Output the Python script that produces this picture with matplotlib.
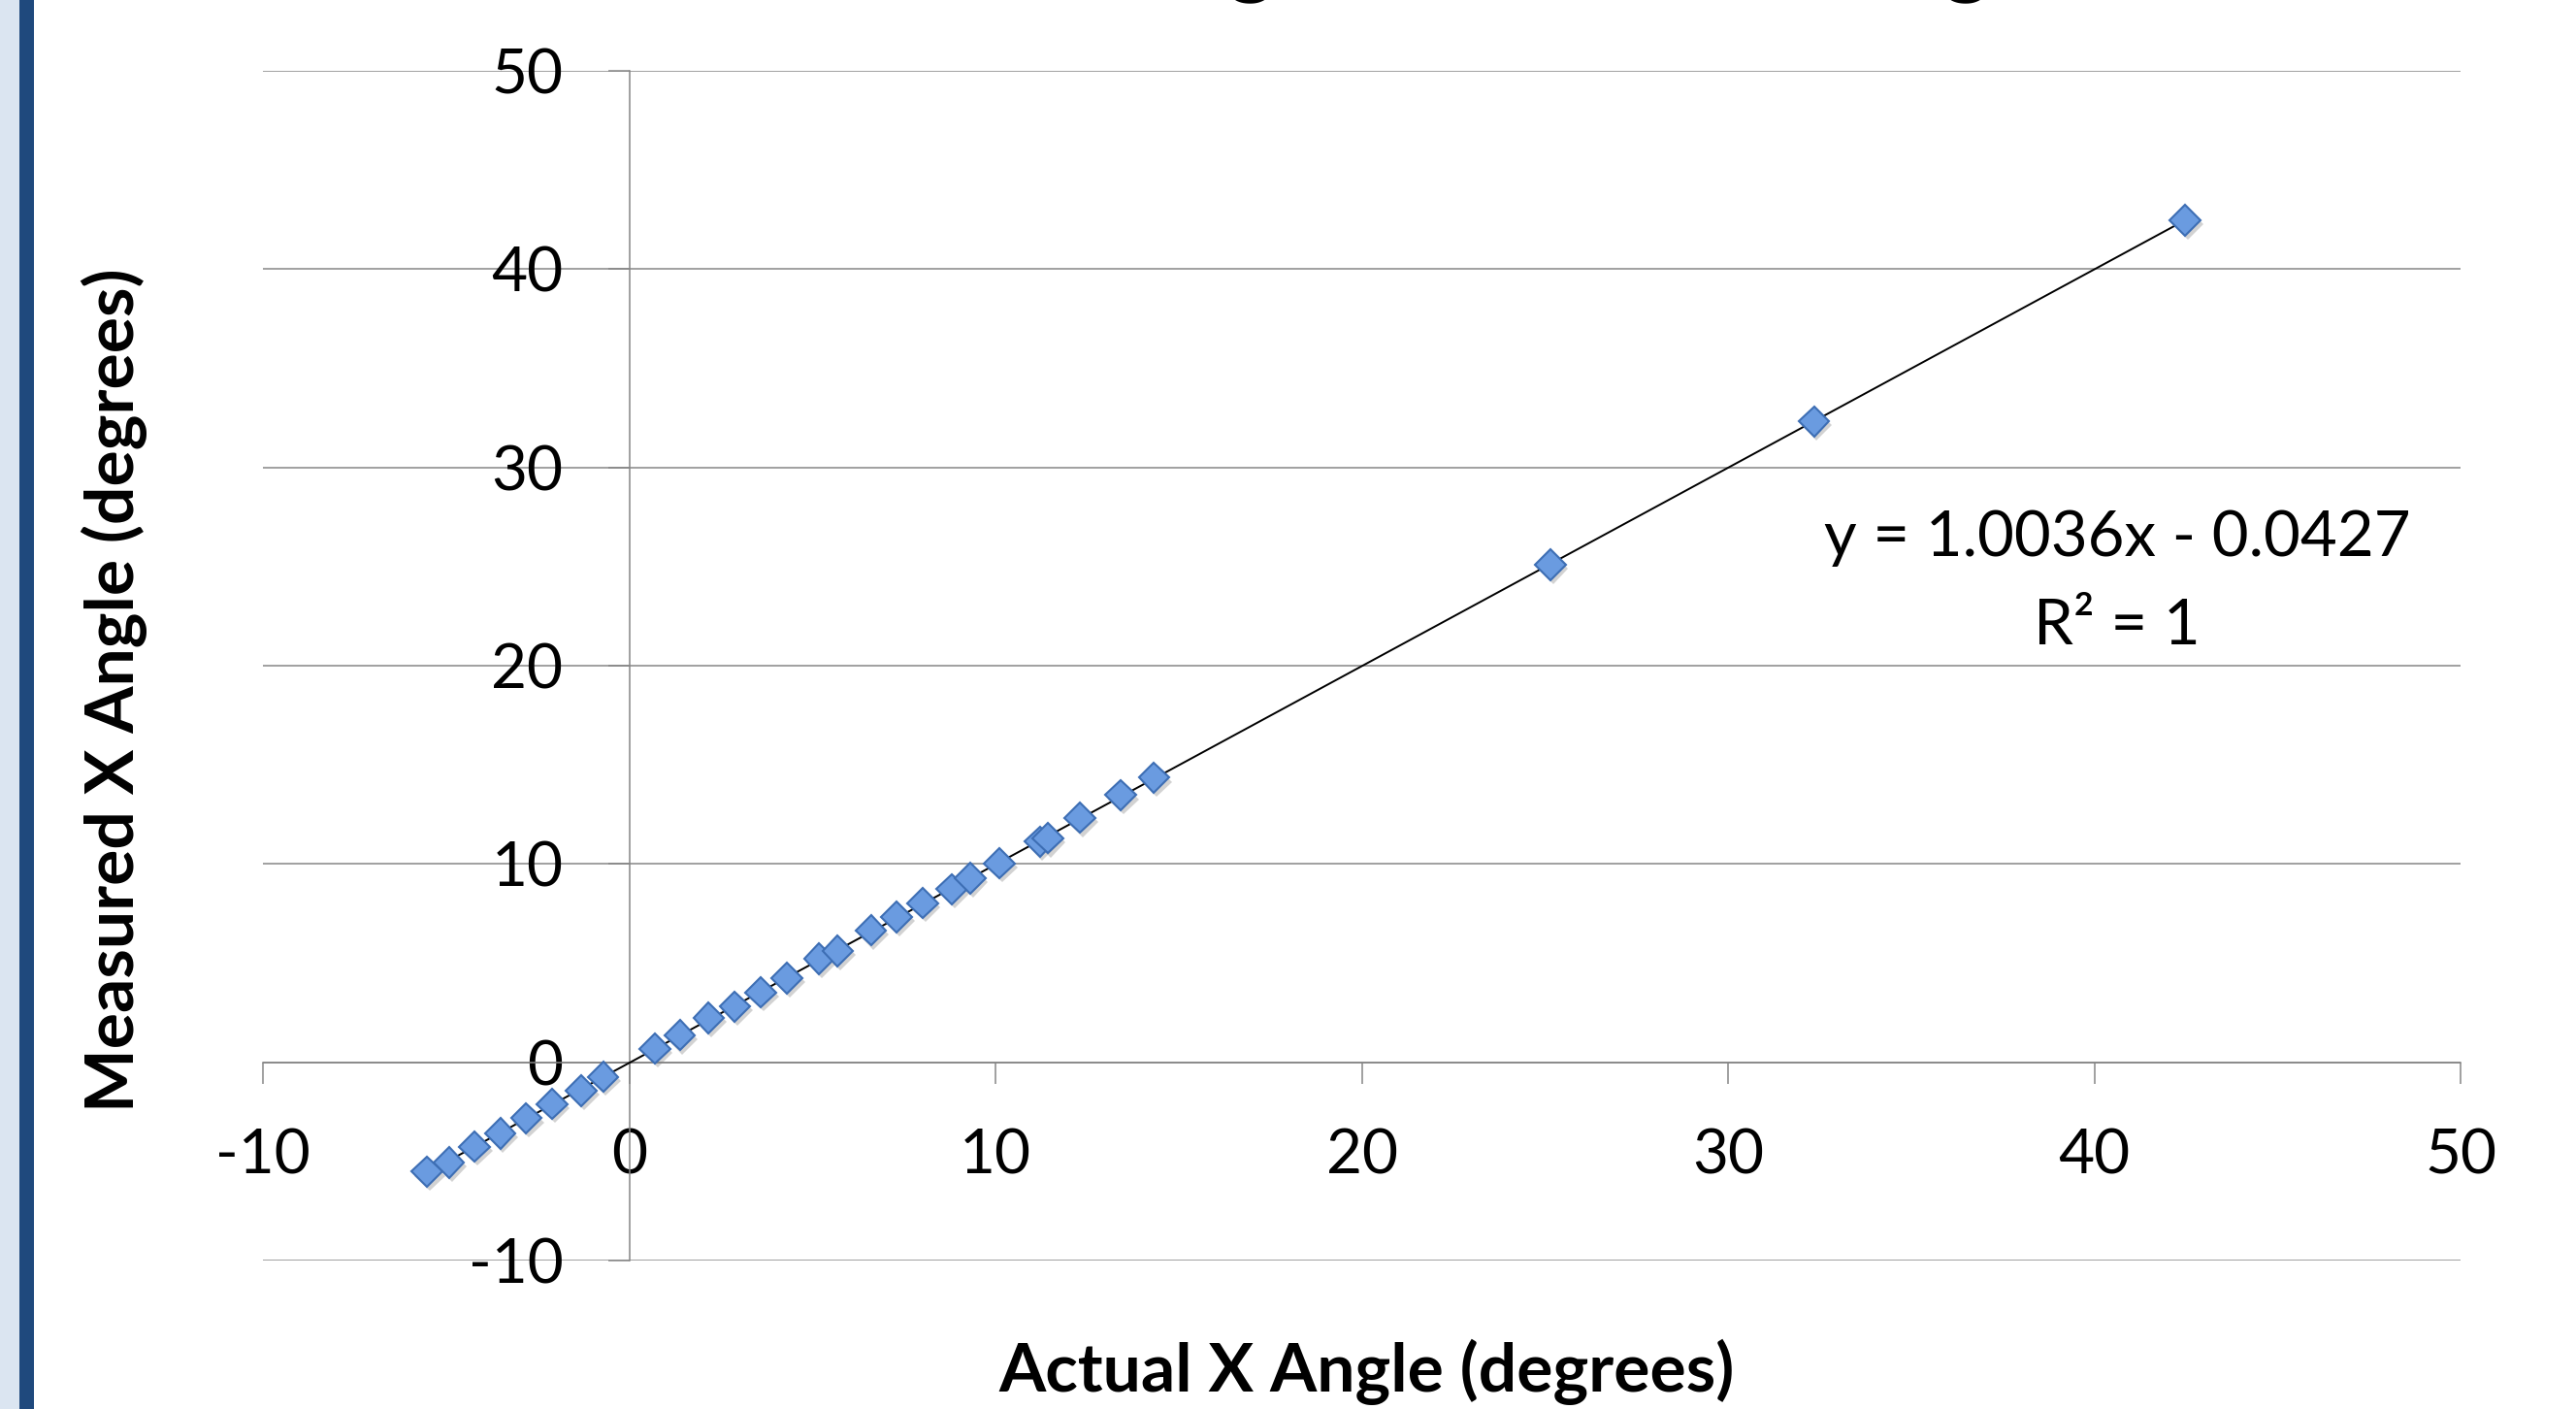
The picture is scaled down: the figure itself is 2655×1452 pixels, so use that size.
import numpy as np
import matplotlib
matplotlib.use("Agg")
import matplotlib.pyplot as plt
import matplotlib.patheffects as pe
from matplotlib.patches import Rectangle

plt.rcParams['font.family'] = ['Lato', 'DejaVu Sans']

# Actual vs measured X angle (degrees)
actual_x = [-5.52, -4.92, -4.22, -3.52, -2.81, -2.11, -1.31, -0.71, 0.70, 1.38,
            2.17, 2.88, 3.59, 4.31, 5.19, 5.69, 6.60, 7.30, 8.01, 8.81,
            9.31, 10.11, 11.21, 11.43, 12.31, 13.42, 14.33, 25.15, 32.35, 42.48]
measured_x = [-5.52, -5.06, -4.25, -3.59, -2.83, -2.10, -1.43, -0.73, 0.69, 1.37,
              2.24, 2.81, 3.53, 4.25, 5.21, 5.62, 6.65, 7.33, 8.03, 8.73,
              9.29, 10.04, 11.13, 11.30, 12.33, 13.47, 14.35, 25.09, 32.32, 42.47]
x_ticks = [-10, 0, 10, 20, 30, 40, 50]
y_ticks = [-10, 0, 10, 20, 30, 40, 50]
equation = "y = 1.0036x - 0.0427"
r2_text = "R² = 1"

grid_col = '#868686'

fig = plt.figure(figsize=(26.55, 14.52), dpi=100)
fig.patch.set_facecolor('white')

# blue stripe on the left edge
fig.patches.append(Rectangle((0, 0), 20 / 2655, 1, transform=fig.transFigure,
                             facecolor='#dbe5f1', edgecolor='none'))
fig.patches.append(Rectangle((20 / 2655, 0), 15 / 2655, 1, transform=fig.transFigure,
                             facecolor='#1f497d', edgecolor='none'))

ax = fig.add_axes([271 / 2655, 153 / 1452, 2265 / 2655, 1226 / 1452])
ax.set_xlim(-10, 50)
ax.set_ylim(-10, 50)

for s in ['top', 'right']:
    ax.spines[s].set_visible(False)
ax.spines['bottom'].set_position(('data', 0))
ax.spines['left'].set_position(('data', 0))
for s in ['bottom', 'left']:
    ax.spines[s].set_color(grid_col)
    ax.spines[s].set_linewidth(1.1)

ax.set_xticks(x_ticks)
ax.set_yticks(y_ticks)
ax.set_xticklabels([str(t) for t in x_ticks])
ax.set_yticklabels([str(t) for t in y_ticks])
ax.tick_params(axis='both', direction='out', length=16, width=1.1, color=grid_col,
               labelsize=46, pad=33, labelcolor='black')
ax.yaxis.grid(True, color=grid_col, linewidth=1.1)
ax.set_axisbelow(True)

# trendline
coef = np.polyfit(actual_x, measured_x, 1)
xl = np.array([min(actual_x), max(actual_x)])
ax.plot(xl, np.polyval(coef, xl), color='black', linewidth=1.4, zorder=3)

ax.plot(actual_x, measured_x, linestyle='none', marker='D', markersize=16,
        markerfacecolor='#6a9be0', markeredgecolor='#3d6eb4', markeredgewidth=1.5,
        zorder=4, clip_on=False,
        path_effects=[pe.SimplePatchShadow(offset=(2, -3), shadow_rgbFace='#808080', alpha=0.35),
                      pe.Normal()])

fig.text(2182 / 2655, 1 - 555 / 1452, equation, fontsize=47, ha='center', va='center')
fig.text(2182 / 2655, 1 - 645 / 1452, r2_text, fontsize=47, ha='center', va='center')

# title sits mostly above the top edge, only the descenders show
fig.text(0.5194, 1 + 15 / 1452, "Measured X Angle vs Actual X Angle", fontsize=66,
         fontweight='bold', ha='center', va='baseline')
fig.text(1409 / 2655, 38 / 1452, "Actual X Angle (degrees)", fontsize=50,
         fontweight='bold', ha='center', va='center')
fig.text(118 / 2655, 741 / 1452, "Measured X Angle (degrees)", fontsize=50,
         fontweight='bold', ha='center', va='center', rotation=90)

fig.savefig('out.png', dpi=100)
